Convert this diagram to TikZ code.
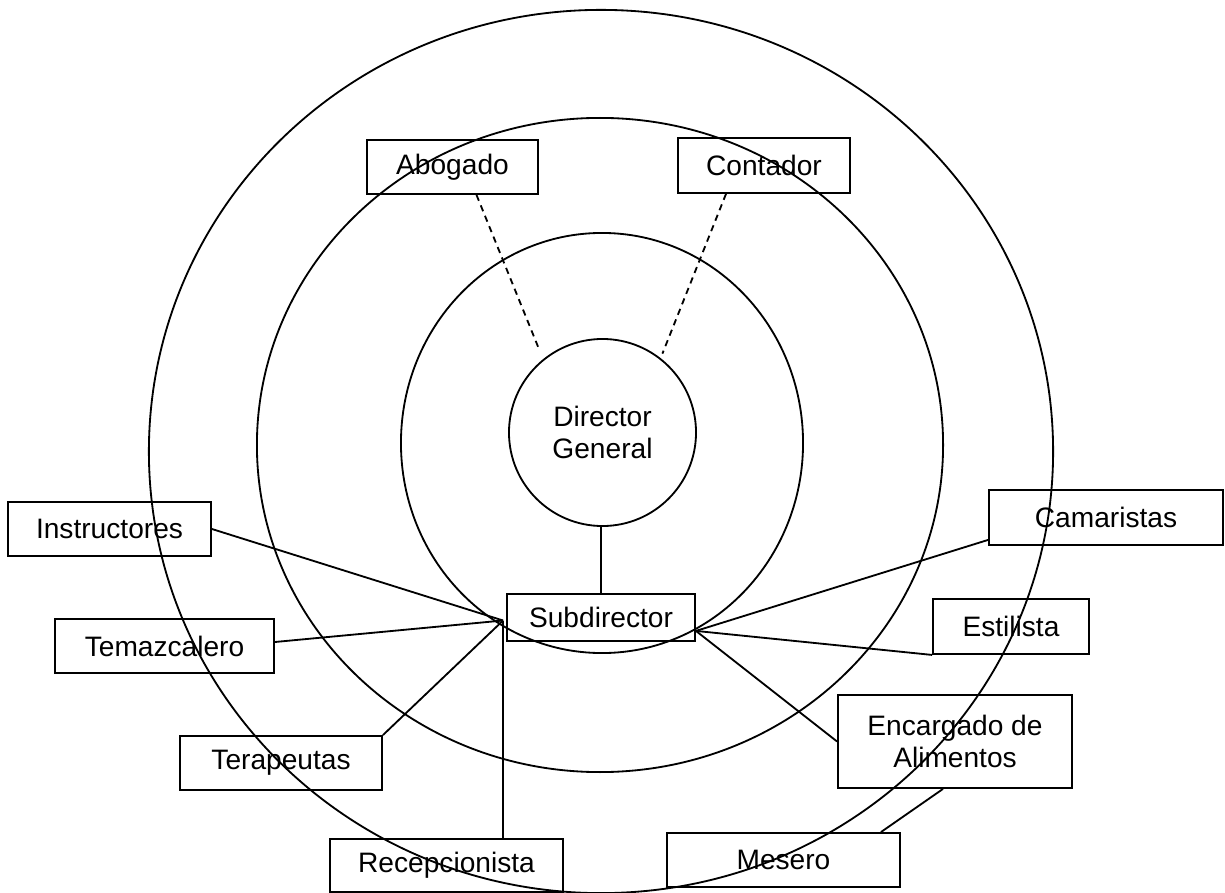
\documentclass[tikz,border=0pt]{standalone}
\usepackage{fontspec}
\setmainfont{Liberation Sans}
\usetikzlibrary{calc}

\begin{document}
\begin{tikzpicture}[x=0.025cm, y=-0.025cm, line width=1.3pt,
	puesto/.style={draw, rectangle, inner sep=0pt, align=center},
	asesor/.style={dash pattern=on 4.5pt off 3.5pt}]

\fontsize{20}{23}\selectfont
\path [use as bounding box] (0,0) rectangle (1225,893);

% CIRCLES
\draw (601,451.5) ellipse [x radius=11.3cm, y radius=11.0375cm];
\draw (600,445) ellipse [x radius=8.575cm, y radius=8.175cm];
\draw (602,443) ellipse [x radius=5.025cm, y radius=5.25cm];

% CENTER
\node [draw, circle, inner sep=0pt, minimum size=4.675cm, align=center] (director) at (602.5,432.5) {Director\\General};
\node [puesto, minimum width=4.7cm, minimum height=1.175cm] (subdir) at (601,617.5) {Subdirector};

% ADVISORS
\node [puesto, minimum width=4.275cm, minimum height=1.35cm] (abogado) at (452.5,167) {Abogado};
\node [puesto, minimum width=4.3cm, minimum height=1.375cm] (contador) at (764,165.5) {Contador};

% STAFF
\node [puesto, minimum width=5.075cm, minimum height=1.35cm] (instr) at (109.5,529) {Instructores};
\node [puesto, minimum width=5.475cm, minimum height=1.35cm] (temaz) at (164.5,646) {Temazcalero};
\node [puesto, minimum width=5.05cm, minimum height=1.35cm] (terap) at (281,763) {Terapeutas};
\node [puesto, minimum width=5.825cm, minimum height=1.325cm] (recep) at (446.5,865.5) {Recepcionista};
\node [puesto, minimum width=5.825cm, minimum height=1.35cm] (mesero) at (783.5,860) {Mesero};
\node [puesto, minimum width=5.85cm, minimum height=2.325cm] (encarg) at (955,741.5) {Encargado de\\Alimentos};
\node [puesto, minimum width=3.9cm, minimum height=1.375cm] (estil) at (1011,626.5) {Estilista};
\node [puesto, minimum width=5.85cm, minimum height=1.375cm] (camar) at (1106,517.5) {Camaristas};

% LINKS
\coordinate (hubL) at ($(subdir.west)+(-3,3)$);
\coordinate (hubR) at ($(subdir.south east)+(0,-11)$);

\draw [asesor, shorten >=0.225cm] ($(abogado.south)+(24,0)$) -- (director.129);
\draw [asesor, shorten >=0.12cm] ($(contador.south)+(-38,0)$) -- (director.52);
\draw (subdir.north) -- (subdir.north |- director.south);

\draw (instr.east) -- (hubL);
\draw ($(temaz.east)+(0,-4)$) -- (hubL);
\draw (terap.north east) -- (hubL);
\draw (hubL) -- (hubL |- recep.north);

\draw (hubR) -- ($(camar.south west)+(0,-6)$);
\draw (hubR) -- (estil.south west);
\draw (hubR) -- (encarg.west);
\draw ($(encarg.south)+(-12,0)$) -- ($(mesero.north east)+(-20,0)$);

\end{tikzpicture}
\end{document}
